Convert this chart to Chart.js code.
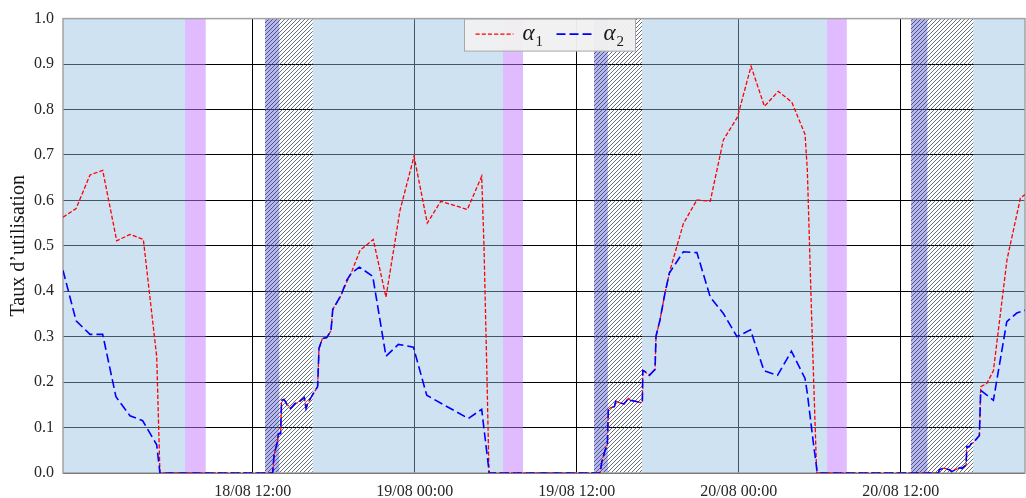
<!DOCTYPE html>
<html>
<head>
<meta charset="utf-8">
<script src="https://cdn.jsdelivr.net/npm/chart.js@4.4.0/dist/chart.umd.min.js"></script>
<style>
  html, body { margin: 0; padding: 0; background: #ffffff; }
  #c { display: block; }
</style>
</head>
<body>
<canvas id="c" width="1026" height="498"></canvas>
<script>
// Time is expressed in hours since 18/08 00:00.
const axisStart = -2.05;
const axisEnd = 69.2;
const tickHours = [12, 24, 36, 48, 60];
const tickLabels = ['18/08 12:00', '19/08 00:00', '19/08 12:00', '20/08 00:00', '20/08 12:00'];
const yTickStep = 0.1;

const seriesNames = ['α1', 'α2'];

// α1 utilisation rate
const alpha1Hours = [
  -2.05, -1.08, -0.05, 0.89, 1.93, 2.91, 3.90, 4.89, 5.13,
  13.48, 13.58, 13.82, 13.90, 14.07, 14.14, 14.32, 14.52, 14.81, 15.13, 15.38, 15.82, 15.95, 16.07,
  16.49, 16.81, 16.91, 17.16, 17.48, 17.80, 17.93, 18.54, 18.96, 19.28,
  19.95, 20.93, 21.87, 22.91, 23.95, 24.93, 25.93, 27.90, 28.96, 29.13, 29.36, 29.50,
  37.73, 37.86, 38.10, 38.27, 38.34, 38.54, 38.79, 38.89, 39.16, 39.50, 39.82, 39.95, 40.32, 40.76, 40.86,
  40.89, 41.06, 41.38, 41.80, 41.87, 42.16, 42.53,
  42.90, 43.90, 44.90, 45.89, 46.86, 47.90, 48.91, 49.90, 50.93, 51.93, 52.91, 53.08, 53.40, 53.77,
  62.79, 62.86, 63.08, 63.28, 63.60, 63.78, 64.02, 64.39, 64.52, 64.84, 64.89, 65.08, 65.21, 65.38,
  65.75, 65.82, 65.92, 66.37, 66.86, 67.87, 68.86, 69.20
];
const alpha1Values = [
  0.563, 0.582, 0.656, 0.666, 0.511, 0.525, 0.514, 0.256, 0.0,
  0.0, 0.040, 0.067, 0.086, 0.087, 0.160, 0.162, 0.152, 0.142, 0.153, 0.155, 0.166, 0.142, 0.153,
  0.175, 0.190, 0.274, 0.296, 0.298, 0.313, 0.360, 0.391, 0.420, 0.439,
  0.490, 0.514, 0.387, 0.578, 0.697, 0.550, 0.598, 0.580, 0.653, 0.500, 0.200, 0.0,
  0.0, 0.025, 0.050, 0.062, 0.140, 0.144, 0.146, 0.158, 0.155, 0.152, 0.164, 0.160, 0.158, 0.155, 0.157,
  0.226, 0.223, 0.215, 0.228, 0.301, 0.336, 0.395,
  0.445, 0.549, 0.601, 0.598, 0.733, 0.783, 0.895, 0.807, 0.840, 0.816, 0.745, 0.666, 0.340, 0.0,
  0.0, 0.007, 0.010, 0.010, 0.007, 0.003, 0.007, 0.012, 0.010, 0.018, 0.058, 0.058, 0.064, 0.067,
  0.080, 0.082, 0.190, 0.197, 0.225, 0.470, 0.605, 0.613
];

// α2 utilisation rate
const alpha2Hours = [
  -2.05, -1.08, -0.05, 0.89, 1.87, 2.91, 3.85, 4.89, 5.13,
  13.48, 13.58, 13.82, 13.90, 14.07, 14.14, 14.32, 14.52, 14.81, 15.13, 15.38, 15.82, 15.95, 16.07,
  16.49, 16.81, 16.91, 17.16, 17.48, 17.80, 17.93, 18.54, 18.96, 19.28,
  19.90, 20.89, 21.87, 22.79, 23.90, 24.89, 27.97, 28.96, 29.52,
  37.73, 37.86, 38.10, 38.27, 38.34, 38.54, 38.79, 38.89, 39.16, 39.50, 39.82, 39.95, 40.32, 40.76, 40.86,
  40.89, 41.06, 41.38, 41.80, 41.87, 42.16, 42.53,
  42.86, 43.90, 44.90, 45.89, 46.86, 47.87, 48.87, 49.87, 50.87, 51.90, 52.91, 53.08, 53.53, 53.82,
  62.79, 62.86, 63.08, 63.28, 63.60, 63.78, 64.02, 64.39, 64.52, 64.84, 64.89, 65.08, 65.21, 65.38,
  65.75, 65.82, 65.92, 66.86, 67.85, 68.59, 69.20
];
const alpha2Values = [
  0.446, 0.335, 0.305, 0.305, 0.168, 0.126, 0.115, 0.062, 0.0,
  0.0, 0.040, 0.067, 0.086, 0.087, 0.160, 0.162, 0.152, 0.142, 0.153, 0.155, 0.166, 0.142, 0.153,
  0.175, 0.190, 0.274, 0.296, 0.298, 0.313, 0.360, 0.391, 0.424, 0.439,
  0.453, 0.433, 0.257, 0.283, 0.277, 0.171, 0.120, 0.140, 0.0,
  0.0, 0.025, 0.050, 0.062, 0.140, 0.144, 0.146, 0.158, 0.155, 0.152, 0.164, 0.160, 0.158, 0.155, 0.157,
  0.226, 0.223, 0.215, 0.228, 0.301, 0.336, 0.395,
  0.440, 0.487, 0.485, 0.387, 0.351, 0.300, 0.315, 0.225, 0.215, 0.268, 0.208, 0.175, 0.065, 0.0,
  0.0, 0.007, 0.010, 0.010, 0.007, 0.003, 0.007, 0.012, 0.010, 0.018, 0.058, 0.058, 0.064, 0.067,
  0.080, 0.082, 0.182, 0.160, 0.333, 0.352, 0.358
];

// Shaded periods [start, end] in hours
const dayPeriods = [[-2.05, 6.99], [16.44, 30.54], [40.84, 54.52], [65.38, 69.2]];
const violetPeriods = [[6.99, 8.52], [30.54, 32.02], [54.52, 56.0]];
const darkPeriods = [[12.91, 13.97], [37.28, 38.30], [60.76, 61.97]];
const hatchPeriods = [[12.91, 16.44], [37.28, 40.84], [60.76, 65.38]];

const toPoints = (hours, values) => hours.map((h, i) => ({ x: h, y: values[i] }));

const serif = "'Liberation Serif', 'DejaVu Serif', serif";

function makeHatch(ctx) {
  const s = 4;
  const c = document.createElement('canvas');
  c.width = s; c.height = s;
  const g = c.getContext('2d');
  g.strokeStyle = 'rgba(40,55,70,0.72)';
  g.lineWidth = 1;
  g.beginPath();
  g.moveTo(0, s); g.lineTo(s, 0);
  g.moveTo(-1, 1); g.lineTo(1, -1);
  g.moveTo(s - 1, s + 1); g.lineTo(s + 1, s - 1);
  g.stroke();
  return ctx.createPattern(c, 'repeat');
}

const bandsPlugin = {
  id: 'bands',
  beforeDatasetsDraw(chart) {
    const { ctx, chartArea: a, scales: { x } } = chart;
    ctx.save();
    ctx.beginPath();
    ctx.rect(a.left, a.top, a.width, a.height);
    ctx.clip();
    const fillSpans = (spans, style) => {
      ctx.fillStyle = style;
      spans.forEach(([s, e]) => {
        const x0 = x.getPixelForValue(s);
        const x1 = x.getPixelForValue(e);
        ctx.fillRect(x0, a.top, x1 - x0, a.height);
      });
    };
    fillSpans(dayPeriods, 'rgba(148,191,226,0.45)');
    fillSpans(violetPeriods, 'rgba(193,119,255,0.5)');
    fillSpans(darkPeriods, 'rgba(110,110,230,0.5)');
    fillSpans(hatchPeriods, makeHatch(ctx));
    ctx.restore();

    // plot frame
    ctx.save();
    ctx.strokeStyle = '#a3a3a3';
    ctx.lineWidth = 1.5;
    ctx.strokeRect(a.left, a.top, a.width, a.height);
    ctx.restore();
  }
};

const legendPlugin = {
  id: 'boxLegend',
  afterDraw(chart) {
    const { ctx, chartArea: a } = chart;
    const boxW = 171, boxH = 32;
    const left = Math.round((a.left + a.right) / 2 - boxW / 2 + 5) + 0.5;
    const top = a.top + 0.5;
    ctx.save();
    ctx.fillStyle = 'rgba(240,240,240,0.96)';
    ctx.fillRect(left, top, boxW, boxH);
    ctx.strokeStyle = '#a8a8a8';
    ctx.lineWidth = 1;
    ctx.strokeRect(left, top, boxW, boxH);
    chart.data.datasets.forEach((ds, i) => {
      const x0 = left + 11 + i * 81;
      const y = top + 15;
      ctx.strokeStyle = ds.borderColor;
      ctx.lineWidth = ds.borderWidth;
      ctx.setLineDash(ds.borderDash);
      ctx.beginPath();
      ctx.moveTo(x0, y);
      ctx.lineTo(x0 + 38, y);
      ctx.stroke();
      ctx.setLineDash([]);
      const name = seriesNames[i];
      ctx.fillStyle = '#1a1a1a';
      ctx.textBaseline = 'alphabetic';
      ctx.font = 'italic 23px ' + serif;
      ctx.fillText(name.charAt(0), x0 + 47, y + 6);
      const w = ctx.measureText(name.charAt(0)).width;
      ctx.font = '15px ' + serif;
      ctx.fillText(name.slice(1), x0 + 47 + w + 1, y + 12);
    });
    ctx.restore();
  }
};

new Chart(document.getElementById('c'), {
  type: 'line',
  data: {
    datasets: [
      {
        label: seriesNames[0],
        data: toPoints(alpha1Hours, alpha1Values),
        borderColor: '#ff0000',
        borderWidth: 1.3,
        borderDash: [4.2, 2],
        pointRadius: 0,
        tension: 0,
        fill: false,
        order: 1
      },
      {
        label: seriesNames[1],
        data: toPoints(alpha2Hours, alpha2Values),
        borderColor: '#0000ff',
        borderWidth: 1.6,
        borderDash: [9, 4],
        pointRadius: 0,
        tension: 0,
        fill: false,
        order: 0
      }
    ]
  },
  options: {
    responsive: false,
    animation: false,
    devicePixelRatio: 1,
    layout: { padding: { top: 18, right: 1, left: 0, bottom: 0 } },
    plugins: {
      legend: { display: false },
      tooltip: { enabled: false }
    },
    scales: {
      x: {
        type: 'linear',
        min: axisStart,
        max: axisEnd,
        afterBuildTicks(scale) {
          scale.ticks = tickHours.map(v => ({ value: v }));
        },
        afterFit(scale) { scale.height = 25; },
        ticks: {
          autoSkip: false,
          maxRotation: 0,
          padding: 9,
          color: '#262626',
          font: { family: serif, size: 16 },
          callback: (v) => {
            const i = tickHours.indexOf(v);
            return i >= 0 ? tickLabels[i] : '';
          }
        },
        grid: { color: '#000000', lineWidth: 1, drawTicks: false },
        border: { display: false }
      },
      y: {
        min: 0,
        max: 1,
        afterFit(scale) { scale.width = 63; },
        ticks: {
          stepSize: yTickStep,
          padding: 9,
          color: '#262626',
          font: { family: serif, size: 16 },
          callback: (v) => Number(v).toFixed(1)
        },
        grid: { color: '#000000', lineWidth: 1, drawTicks: false },
        border: { display: false },
        title: {
          display: true,
          text: 'Taux d’utilisation',
          color: '#141414',
          font: { family: serif, size: 20 },
          padding: { top: 7, bottom: 0 }
        }
      }
    }
  },
  plugins: [bandsPlugin, legendPlugin]
});
</script>
</body>
</html>
